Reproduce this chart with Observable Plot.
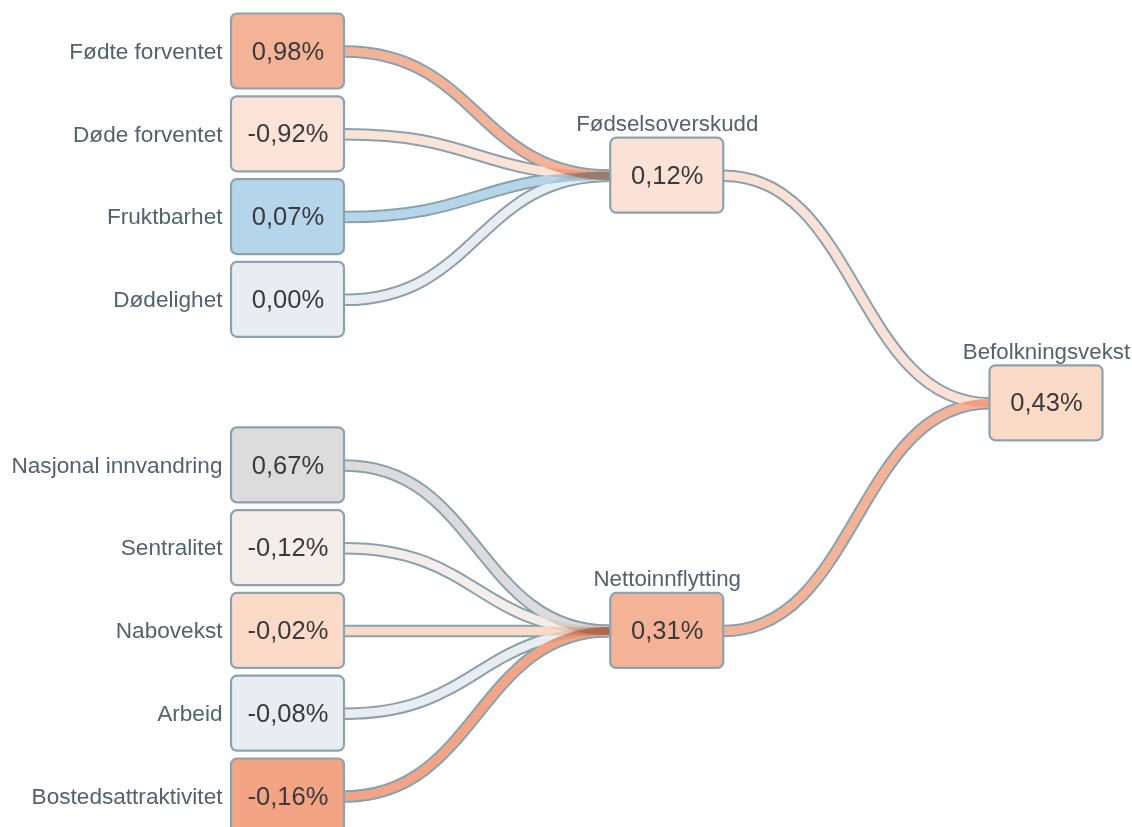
<!DOCTYPE html>
<html>
<head>
<meta charset="utf-8">
<script src="https://cdn.jsdelivr.net/npm/d3@7"></script>
<script src="https://cdn.jsdelivr.net/npm/@observablehq/plot@0.6"></script>
<style>
  html, body { margin: 0; padding: 0; background: #fff; }
  #chart { width: 1132px; height: 827px; overflow: hidden; }
</style>
</head>
<body>
<div id="chart"></div>
<script>
// ---- data ----
const leafLabels = ["Fødte forventet", "Døde forventet", "Fruktbarhet", "Dødelighet",
  "Nasjonal innvandring", "Sentralitet", "Nabovekst", "Arbeid", "Bostedsattraktivitet"];
const leafValues = [0.98, -0.92, 0.07, 0.00, 0.67, -0.12, -0.02, -0.08, -0.16];
const leafGroup = [0, 0, 0, 0, 1, 1, 1, 1, 1];
const groupLabels = ["Fødselsoverskudd", "Nettoinnflytting"];
const groupValues = [0.12, 0.31];
const totalLabel = "Befolkningsvekst";
const totalValue = 0.43;

// ---- colours ----
const leafFill = ["#f4b296", "#fbe3d8", "#b5d5ea", "#e7edf1", "#dcdcdc", "#f4eeeb", "#fcdac8", "#e7edf1", "#f2a485"];
const groupFill = ["#fce2d6", "#f4b296"];
const totalFill = "#fcdac8";

// ---- layout (tree: leaves evenly spaced with a gap between groups, parents at mean of children) ----
const fmt = v => v.toFixed(2).replace(".", ",") + "%";
const nodes = [];
leafLabels.forEach((name, i) => {
  nodes.push({name, value: leafValues[i], col: 0, row: i + leafGroup[i], fill: leafFill[i], parent: groupLabels[leafGroup[i]]});
});
groupLabels.forEach((name, g) => {
  const rows = nodes.filter(n => n.parent === name).map(n => n.row);
  nodes.push({name, value: groupValues[g], col: 1, row: d3.mean(rows), fill: groupFill[g], parent: totalLabel});
});
{
  const rows = nodes.filter(n => n.parent === totalLabel).map(n => n.row);
  nodes.push({name: totalLabel, value: totalValue, col: 2, row: d3.mean(rows), fill: totalFill, parent: null});
}
const byName = new Map(nodes.map(n => [n.name, n]));

const W = 1132, H = 827;
const mL = 287.5, mR = 86, mT = 51, mB = 31;
const nodeW = 113, nodeH = 75;
const maxRow = d3.max(nodes, d => d.row);
const hw = (nodeW / 2) / ((W - mL - mR) / 2);
const hh = (nodeH / 2) / ((H - mT - mB) / maxRow);

const links = nodes.filter(n => n.parent).map(n => {
  const t = byName.get(n.parent);
  return {x1: n.col + hw, y1: n.row, x2: t.col - hw, y2: t.row, fill: n.fill};
});

const linkOpts = {x1: "x1", y1: "y1", x2: "x2", y2: "y2", curve: "bump-x"};

const plot = Plot.plot({
  width: W, height: H,
  marginLeft: mL, marginRight: mR, marginTop: mT, marginBottom: mB,
  x: {domain: [0, 2], axis: null},
  y: {domain: [0, maxRow], reverse: true, axis: null},
  color: {type: "identity"},
  style: {fontFamily: "'Liberation Sans', Arial, sans-serif", background: "#fff", overflow: "visible"},
  marks: [
    Plot.link(links, {...linkOpts, stroke: "#8aa0ac", strokeWidth: 12.5}),
    Plot.link(links, {...linkOpts, stroke: "#ffffff", strokeWidth: 8.5}),
    ...links.map(l => Plot.link([l], {...linkOpts, stroke: "fill", strokeWidth: 8.5, mixBlendMode: "multiply"})),
    Plot.rect(nodes, {
      x1: d => d.col - hw, x2: d => d.col + hw,
      y1: d => d.row - hh, y2: d => d.row + hh,
      fill: "fill", stroke: "#8ca2ae", strokeWidth: 2.2, rx: 6
    }),
    Plot.text(nodes, {x: "col", y: "row", text: d => fmt(d.value), fontSize: 25.5, fill: "#3a3a3a"}),
    Plot.text(nodes.filter(d => d.col === 0), {
      x: d => d.col - hw, y: "row", text: "name", textAnchor: "end", dx: -9,
      fontSize: 22.6, fill: "#52636e"
    }),
    Plot.text(nodes.filter(d => d.col > 0), {
      x: "col", y: d => d.row - hh, text: "name", lineAnchor: "bottom", dy: -7,
      fontSize: 22.3, fill: "#52636e"
    })
  ]
});
document.getElementById("chart").appendChild(plot);
</script>
</body>
</html>
